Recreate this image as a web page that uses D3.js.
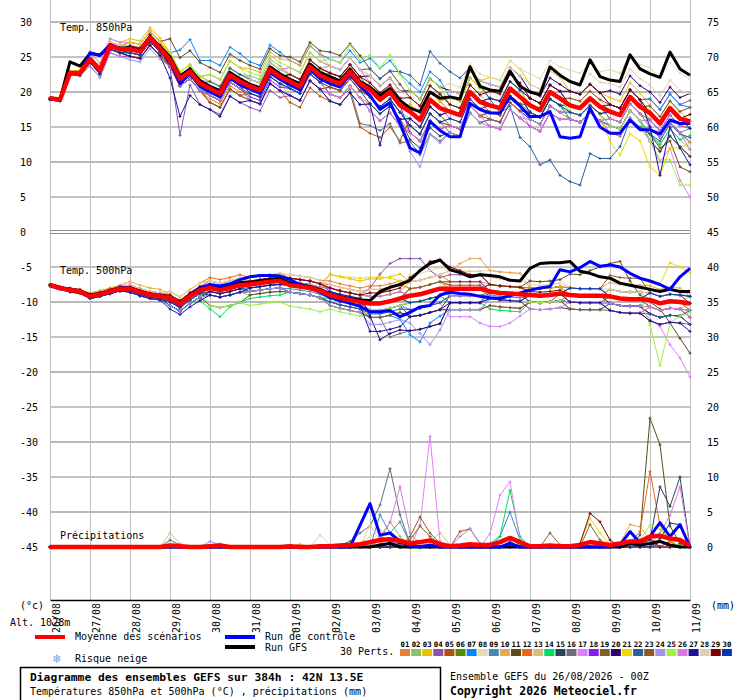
<!DOCTYPE html>
<html><head><meta charset="utf-8">
<script src="https://cdn.jsdelivr.net/npm/d3@7"></script>
<style>
body{margin:0;background:#fff}
svg{display:block}
text{font-family:"DejaVu Sans Mono",monospace;fill:#000}
</style>
</head><body>
<svg id="c" width="740" height="700"></svg>
<script>
// ---------------- DATA ----------------
const dates = ["26/08","27/08","28/08","29/08","30/08","31/08","01/09","02/09","03/09","04/09","05/09","06/09","07/09","08/09","09/09","10/09","11/09"];
const dayTicks = [0,4,8,12,16,20,24,28,32,36,40,44,48,52,56,60,64]; // 6h step index of each day
const leftTicks = [30,25,20,15,10,5,0,-5,-10,-15,-20,-25,-30,-35,-40,-45];
const rightTicks = [75,70,65,60,55,50,45,40,35,30,25,20,15,10,5,0];
const memberColors = ["#e8812e","#88c46c","#f0c000","#8c54b0","#b0500c","#588800","#0088ff","#e8d8b0","#3c8cbc","#e8a850","#5c4c1c","#f0641c","#d4c080","#00dc64","#28445c","#687078","#e080f8","#8020f0","#806030","#300070","#f0d800","#2860a0","#905820","#a090f0","#a0f040","#d878d8","#2010a0","#e0d0b0","#800000","#0038b0"];
const memberLabels = ["01","02","03","04","05","06","07","08","09","10","11","12","13","14","15","16","17","18","19","20","21","22","23","24","25","26","27","28","29","30"];

// 850 hPa temperature (°C), 6-hourly
const mean850 = [19.1,18.9,22.7,22.7, 24.7,23.1,26.6,26.1, 26.1,25.8,27.7,26.2, 24.6,21.9,22.9,21.2, 20.5,19.8,22.4,21.5, 20.8,20.3,23.2,22.2, 21.5,20.8,23.6,22.4, 21.7,21.2,22.9,21.2, 20.3,18.9,20.0,18.1, 17.2,16.0,18.9,17.7, 17.2,16.7,20.0,18.6, 18.1,17.7,20.5,19.3, 18.1,17.4,20.0,19.1, 18.1,17.7,19.1,17.9, 17.2,16.7,19.3,17.9, 17.0,15.5,17.7,16.2, 15.8];
const ctrl850 = [19.0,18.8,22.6,22.6, 25.6,25.2,26.8,26.2, 26.2,25.9,27.9,26.3, 24.3,21.2,22.6,20.8, 20.0,19.3,22.0,21.0, 20.4,19.8,22.8,21.8, 21.0,20.3,23.2,21.9, 21.2,20.7,22.5,20.8, 19.5,17.5,18.5,15.5, 12.0,11.3,15.8,14.5, 13.6,13.6,18.4,17.5, 17.0,17.0,19.3,18.0, 16.5,16.5,17.2,13.6, 13.4,13.6,17.7,15.0, 14.1,14.1,16.0,14.6, 14.6,14.0,16.0,15.5, 15.5];
const gfs850 = [19.2,18.9,24.3,23.7, 25.5,25.3,26.5,26.3, 26.3,26.0,27.8,26.5, 25.0,22.3,23.3,21.6, 20.8,20.2,22.8,21.9, 21.1,20.6,23.6,22.6, 21.8,21.2,24.0,22.8, 22.2,21.6,23.3,21.5, 20.7,19.5,20.5,18.8, 17.7,17.2,20.0,19.1, 19.3,19.0,23.6,20.8, 20.3,20.1,23.0,20.8, 20.0,19.6,23.6,22.4, 21.5,21.0,24.6,22.2, 21.7,21.5,25.3,23.3, 22.6,22.1,25.7,23.3, 22.4];
const members850 = [
[19.0,18.8,22.5,22.4, 24.7,23.1,26.6,26.1, 25.6,25.3,27.2,25.7, 23.6,20.9,21.9,20.2, 19.0,18.3,20.9,20.0, 19.8,19.3,22.2,21.2, 20.5,19.8,22.6,21.4, 19.7,19.2,20.9,19.2, 18.3,16.9,18.0,16.1, 14.2,13.0,15.9,14.7, 15.2,14.7,18.0,16.6, 17.1,16.7,19.5,18.3, 16.1,15.4,18.0,17.1, 16.1,15.7,17.1,15.9, 14.2,13.7,16.3,14.9, 15.0,13.5,15.7,14.2, 12.8],
[19.2,19.0,22.9,23.0, 25.2,23.6,27.1,26.6, 26.1,25.8,27.7,26.2, 25.6,22.9,23.9,22.2, 21.5,20.8,23.4,22.5, 22.3,21.8,24.7,23.7, 22.5,21.8,24.6,23.4, 21.7,21.2,22.9,21.2, 19.3,17.9,19.0,17.1, 16.2,15.0,17.9,16.7, 17.2,16.7,20.0,18.6, 19.1,18.7,21.5,20.3, 18.1,17.4,20.0,19.1, 17.1,16.7,18.1,16.9, 15.2,14.7,17.3,15.9, 14.0,12.5,14.7,13.2, 11.8],
[19.2,19.1,23.0,23.1, 25.7,24.1,27.6,27.1, 27.6,27.3,29.2,27.7, 25.6,22.9,23.9,22.2, 22.5,21.8,24.4,23.5, 21.8,21.3,24.2,23.2, 23.5,22.8,25.6,24.4, 23.7,23.2,24.9,23.2, 22.3,20.9,22.0,20.1, 20.2,19.0,21.9,20.7, 20.2,19.7,23.0,21.6, 22.1,21.7,24.5,23.3, 21.1,20.4,23.0,22.1, 20.1,19.7,21.1,19.9, 19.2,18.7,21.3,19.9, 18.0,16.5,18.7,17.2, 15.8],
[19.0,18.8,22.6,22.5, 23.7,22.1,25.6,25.1, 25.1,24.8,26.7,25.2, 23.6,13.8,21.0,18.2, 17.5,16.8,19.4,18.5, 17.8,17.3,20.2,19.2, 19.5,18.8,21.6,20.4, 20.7,20.2,21.9,20.2, 19.3,17.9,19.0,17.1, 15.2,14.0,16.9,15.7, 14.2,13.7,17.0,15.6, 16.1,15.7,18.5,17.3, 17.1,16.4,19.0,18.1, 18.1,17.7,19.1,17.9, 18.2,17.7,20.3,18.9, 19.0,17.5,19.7,18.2, 18.8],
[19.1,18.9,22.4,22.3, 24.2,22.6,26.1,25.6, 25.1,24.8,26.7,25.2, 23.6,20.9,21.9,20.2, 18.5,17.8,20.4,19.5, 18.8,18.3,21.2,20.2, 18.5,17.8,20.6,19.4, 18.7,18.2,19.9,15.0, 14.1,13.5,15.0,13.0, 16.2,15.0,17.9,16.7, 15.2,14.7,18.0,16.6, 15.1,14.7,17.5,16.3, 15.1,14.4,17.0,16.1, 16.1,15.7,17.1,15.9, 15.2,14.7,17.3,15.9, 13.0,11.5,13.7,12.2, 10.8],
[19.0,18.9,22.8,22.6, 24.7,23.1,26.6,26.1, 26.6,26.3,28.2,26.7, 24.6,21.9,22.9,21.2, 19.5,18.8,21.4,20.5, 19.8,19.3,22.2,21.2, 21.5,20.8,23.6,22.4, 22.7,22.2,23.9,22.2, 20.3,18.9,20.0,18.1, 18.2,17.0,19.9,18.7, 19.2,18.7,22.0,20.6, 19.1,18.7,21.5,20.3, 19.1,18.4,21.0,20.1, 18.1,17.7,19.1,17.9, 16.2,15.7,18.3,16.9, 16.0,14.5,16.7,15.2, 14.8],
[19.2,18.9,22.9,22.8, 24.8,23.3,26.8,26.3, 26.6,26.3,28.2,26.7, 25.6,26.0,27.5,24.5, 24.5,23.8,26.4,25.5, 24.3,23.8,26.7,25.7, 24.5,23.8,26.6,25.4, 24.7,24.2,25.9,24.2, 24.8,23.4,24.5,22.6, 21.2,20.0,22.9,21.7, 19.2,18.7,22.0,20.6, 19.1,18.7,21.5,20.3, 19.1,18.4,21.0,20.1, 20.1,19.7,21.1,19.9, 18.2,17.7,20.3,18.9, 19.0,17.5,19.7,18.2, 17.8],
[19.1,19.0,22.6,22.7, 25.2,23.6,27.1,26.6, 26.1,25.8,27.7,26.2, 23.6,20.9,21.9,20.2, 18.5,17.8,20.4,19.5, 19.8,19.3,22.2,21.2, 21.5,20.8,23.6,22.4, 22.7,22.2,23.9,22.2, 22.3,20.9,22.0,20.1, 20.2,19.0,21.9,20.7, 21.2,20.7,24.0,22.6, 22.1,21.7,24.5,23.3, 22.6,21.9,24.5,23.6, 23.1,22.7,24.1,22.9, 23.2,22.7,25.3,23.9, 23.5,22.0,24.2,22.7, 21.8],
[18.9,18.7,22.5,22.4, 24.2,22.6,26.1,25.6, 25.1,24.8,26.7,25.2, 23.6,20.9,21.9,20.2, 18.5,17.8,20.4,19.5, 18.8,18.3,21.2,20.2, 19.5,18.8,21.6,20.4, 18.7,18.2,19.9,18.2, 18.3,16.9,18.0,16.1, 16.2,15.0,17.9,16.7, 17.2,16.7,20.0,18.6, 17.1,16.7,19.5,18.3, 17.1,16.4,19.0,18.1, 16.1,15.7,17.1,15.9, 16.2,15.7,18.3,16.9, 15.0,13.5,15.7,14.2, 14.8],
[19.2,19.0,22.8,22.9, 25.2,23.6,27.1,26.6, 27.1,26.8,28.7,27.2, 25.6,22.9,23.9,22.2, 22.5,21.8,24.4,23.5, 23.3,22.8,25.7,24.7, 24.5,23.8,26.6,25.4, 23.7,23.2,24.9,23.2, 21.3,19.9,21.0,19.1, 17.2,16.0,18.9,17.7, 16.2,15.7,19.0,17.6, 17.1,16.7,19.5,18.3, 16.1,15.4,18.0,17.1, 17.1,16.7,18.1,16.9, 17.2,16.7,19.3,17.9, 17.0,15.5,17.7,16.2, 16.8],
[19.1,18.9,22.8,22.8, 25.2,23.6,27.1,26.6, 27.1,26.8,28.7,27.2, 27.6,24.9,25.9,24.2, 23.5,22.8,25.4,24.5, 23.8,23.3,26.2,25.2, 25.0,24.3,27.1,25.9, 25.7,25.2,26.9,25.2, 23.3,21.9,23.0,21.1, 19.2,18.0,20.9,19.7, 18.2,17.7,21.0,19.6, 18.1,17.7,20.5,19.3, 17.1,16.4,19.0,18.1, 16.1,15.7,17.1,15.9, 14.2,13.7,16.3,14.9, 14.0,12.0,13.0,9.3, 8.6],
[19.0,18.9,22.6,22.5, 24.2,22.6,26.1,25.6, 25.1,24.8,26.7,25.2, 23.6,20.9,21.9,20.2, 18.5,17.8,20.4,19.5, 18.8,18.3,21.2,20.2, 19.5,18.8,21.6,20.4, 20.7,20.2,21.9,20.2, 20.3,18.9,20.0,18.1, 18.2,17.0,19.9,18.7, 17.2,16.7,20.0,18.6, 17.1,16.7,19.5,18.3, 16.1,15.4,18.0,17.1, 17.1,16.7,18.1,16.9, 17.2,16.7,19.3,17.9, 16.0,14.5,16.7,15.2, 14.8],
[19.1,18.8,22.7,22.6, 24.7,23.1,26.6,26.1, 25.6,25.3,27.2,25.7, 23.6,20.9,21.9,20.2, 19.5,18.8,21.4,20.5, 19.8,19.3,22.2,21.2, 19.5,18.8,21.6,20.4, 19.7,19.2,20.9,19.2, 17.3,15.9,17.0,15.1, 14.2,13.0,15.9,14.7, 15.2,14.7,18.0,16.6, 17.1,16.7,19.5,18.3, 18.1,17.4,20.0,19.1, 19.1,18.7,20.1,18.9, 17.2,16.7,19.3,17.9, 18.0,16.5,18.7,17.2, 17.8],
[19.2,18.9,22.7,22.8, 24.7,23.1,26.6,26.1, 26.6,26.3,28.2,26.7, 24.6,21.9,22.9,21.2, 19.5,18.8,21.4,20.5, 20.8,20.3,23.2,22.2, 22.5,21.8,24.6,23.4, 21.7,21.2,22.9,21.2, 19.3,17.9,19.0,17.1, 15.2,14.0,16.9,15.7, 15.2,14.7,18.0,16.6, 17.1,16.7,19.5,18.3, 17.1,16.4,19.0,18.1, 16.1,15.7,17.1,15.9, 15.2,14.7,17.3,15.9, 14.0,12.5,14.7,13.2, 13.8],
[19.0,18.8,22.6,22.7, 24.2,22.6,26.1,25.6, 26.1,25.8,27.7,26.2, 23.6,20.9,21.9,20.2, 20.5,19.8,22.4,21.5, 20.8,20.3,23.2,22.2, 20.5,19.8,22.6,21.4, 20.7,20.2,21.9,20.2, 18.3,16.9,18.0,16.1, 13.2,12.0,14.9,13.7, 14.2,13.7,17.0,15.6, 16.1,15.7,18.5,17.3, 16.1,15.4,18.0,17.1, 17.1,16.7,18.1,16.9, 15.2,14.7,17.3,15.9, 13.0,11.5,13.7,12.2, 10.8],
[19.1,18.9,22.5,22.6, 24.7,23.1,26.6,26.1, 25.6,25.3,27.2,25.7, 24.1,21.4,22.4,20.7, 19.5,18.8,21.4,20.5, 19.8,19.3,22.2,21.2, 20.5,19.8,22.6,21.4, 19.7,19.2,20.4,15.5, 15.2,14.5,15.5,12.7, 13.0,11.0,14.0,13.0, 14.2,13.7,17.0,15.6, 16.1,15.7,18.5,17.3, 17.1,16.4,19.0,18.1, 18.1,17.7,19.1,17.9, 16.2,15.7,18.3,16.9, 15.0,13.5,15.7,14.2, 12.8],
[19.2,19.0,22.9,22.9, 25.7,24.1,27.6,27.1, 27.1,26.8,28.7,27.2, 25.1,22.4,23.4,21.7, 21.5,20.8,23.4,22.5, 21.8,21.3,24.2,23.2, 23.5,22.8,25.6,24.4, 23.7,23.2,24.9,23.2, 21.3,19.9,21.0,19.1, 17.2,16.0,18.9,17.7, 16.2,15.7,19.0,17.6, 16.1,15.7,18.5,17.3, 15.1,14.4,17.0,16.1, 16.1,15.7,17.1,15.9, 14.2,13.7,16.3,14.9, 13.0,10.0,12.0,7.4, 5.0],
[19.0,18.9,22.6,22.6, 24.7,23.1,26.6,26.1, 25.6,25.3,27.2,25.7, 23.6,20.9,21.9,20.2, 19.5,18.8,21.4,20.5, 19.3,18.8,21.7,20.7, 20.5,19.8,22.6,21.4, 21.7,21.2,22.9,21.2, 20.3,18.9,20.0,18.1, 14.2,13.0,15.9,14.7, 15.2,14.7,18.0,16.6, 15.1,14.7,17.5,16.3, 15.1,14.4,17.0,16.1, 16.1,15.7,17.1,15.9, 15.2,14.7,17.3,15.9, 16.0,14.5,16.7,15.2, 15.8],
[19.1,18.8,22.4,22.5, 24.2,22.6,26.1,25.6, 25.1,24.8,26.7,25.2, 23.6,20.9,21.9,20.2, 18.5,17.8,20.4,19.5, 19.8,19.3,22.2,21.2, 20.5,19.8,22.6,21.4, 19.7,19.2,20.9,19.2, 17.3,15.9,17.0,15.1, 14.2,13.0,15.9,14.7, 15.2,14.7,18.0,16.6, 16.1,15.7,18.5,17.3, 17.1,16.4,19.0,18.1, 18.1,17.7,19.1,17.9, 17.2,16.7,19.3,17.9, 18.0,16.5,18.7,17.2, 17.8],
[19.1,18.9,22.7,22.7, 24.7,23.1,26.6,26.1, 26.1,25.8,27.7,26.2, 23.6,20.9,21.9,20.2, 19.5,18.8,21.4,20.5, 20.8,20.3,23.2,22.2, 22.5,21.8,24.6,23.4, 22.7,22.2,23.9,22.2, 22.3,20.9,22.0,20.1, 20.2,19.0,21.9,20.7, 20.2,19.7,23.0,21.6, 21.1,20.7,23.5,22.3, 20.1,19.4,22.0,21.1, 20.1,19.7,21.1,19.9, 20.2,19.7,22.3,20.9, 20.0,18.5,20.7,19.2, 19.8],
[19.3,19.1,23.0,23.0, 25.2,23.6,27.1,26.6, 27.1,26.8,28.7,27.2, 25.6,22.9,23.9,22.2, 21.5,20.8,23.4,22.5, 21.8,21.3,24.2,23.2, 22.5,21.8,24.6,23.4, 21.7,21.2,22.9,21.2, 20.3,18.9,20.0,18.1, 18.2,17.0,19.9,18.7, 19.2,18.7,22.0,20.6, 19.1,18.7,21.5,20.3, 18.1,17.4,20.0,19.1, 17.1,16.7,18.1,16.9, 12.9,11.0,14.0,13.0, 9.3,8.1,12.0,12.0, 12.7],
[19.1,18.9,22.7,22.6, 24.7,23.1,26.6,26.1, 26.1,25.8,27.7,26.2, 24.6,21.9,22.9,21.2, 21.5,20.8,23.4,22.5, 21.8,21.3,24.2,23.2, 22.5,21.8,24.6,23.4, 23.7,23.2,24.9,23.2, 23.3,21.9,23.0,22.9, 22.4,21.0,25.8,24.1, 22.9,22.0,23.5,21.0, 19.0,17.0,18.0,13.5, 12.2,9.6,10.3,8.1, 7.2,6.7,11.2,10.5, 10.5,12.2,16.0,15.0, 14.0,13.0,15.5,14.0, 13.5],
[19.0,18.9,22.5,22.6, 24.2,22.6,26.1,25.6, 25.6,25.3,27.2,25.7, 23.6,20.9,21.9,20.2, 19.5,18.8,21.4,20.5, 18.8,18.3,21.2,20.2, 19.5,18.8,21.6,20.4, 20.7,20.2,21.9,20.2, 19.3,17.9,19.0,17.1, 15.2,14.0,16.9,15.7, 15.2,14.7,18.0,16.6, 17.1,16.7,19.5,18.3, 18.1,17.4,20.0,19.1, 19.1,18.7,20.1,18.9, 18.2,17.7,20.3,18.9, 17.0,15.5,17.7,16.2, 14.8],
[19.0,18.8,22.4,22.3, 23.7,22.1,25.6,25.1, 24.6,24.3,26.2,24.7, 23.6,20.9,21.9,20.2, 19.5,18.8,21.4,20.5, 18.8,18.3,21.2,20.2, 19.5,18.8,21.6,20.4, 19.7,19.2,20.9,19.2, 17.3,15.9,17.0,15.1, 11.5,9.3,13.9,12.7, 14.2,13.7,17.0,15.6, 15.1,14.7,17.5,16.3, 16.1,15.4,18.0,17.1, 17.1,16.7,18.1,16.9, 15.2,14.7,17.3,15.9, 16.0,14.5,16.7,15.2, 15.8],
[19.2,19.0,22.8,22.9, 25.2,23.6,27.1,26.6, 26.6,26.3,28.2,26.7, 25.6,22.9,23.9,22.2, 22.5,21.8,24.4,23.5, 22.8,22.3,25.2,24.2, 23.5,22.8,25.6,24.4, 24.7,24.2,26.7,24.5, 25.3,23.4,25.3,22.5, 20.2,19.0,21.9,20.7, 18.2,17.7,21.0,19.6, 18.1,17.7,20.5,19.3, 18.1,17.4,20.0,19.1, 17.1,16.7,18.1,16.9, 15.2,14.7,17.3,15.9, 13.0,10.3,10.3,6.7, 6.7],
[19.1,19.0,22.8,22.7, 25.2,23.6,27.1,26.6, 26.6,26.3,28.2,26.7, 24.6,21.9,22.9,21.2, 20.5,19.8,22.4,21.5, 19.8,19.3,22.2,21.2, 20.5,19.8,22.6,21.4, 19.7,19.2,20.9,19.2, 17.3,15.9,17.0,15.1, 14.2,13.0,15.9,14.7, 15.2,14.7,18.0,16.6, 15.1,14.7,17.5,16.3, 15.1,14.4,17.0,16.1, 16.1,15.7,17.1,15.9, 16.2,15.7,18.3,16.9, 15.0,13.5,15.7,14.2, 11.8],
[19.0,18.8,22.5,22.4, 24.2,22.6,26.1,25.6, 25.1,24.8,26.7,25.2, 22.0,16.5,19.5,18.2, 17.5,16.5,19.4,18.5, 18.8,18.3,21.2,20.2, 19.5,18.8,21.6,20.4, 18.7,18.2,19.9,18.2, 18.3,12.4,18.0,16.1, 16.2,15.0,17.9,16.7, 17.2,16.7,20.0,18.6, 19.1,18.7,21.5,20.3, 19.1,18.4,21.0,20.1, 18.1,17.7,19.1,17.9, 18.2,17.7,20.3,18.9, 15.0,8.1,15.0,12.0, 9.6],
[19.2,18.9,22.8,22.8, 25.2,23.6,27.1,26.6, 26.6,26.3,28.2,26.7, 25.1,22.4,23.4,21.7, 20.5,19.8,22.4,21.5, 21.8,21.3,24.2,23.2, 22.5,21.8,24.6,23.4, 23.7,23.2,24.9,23.2, 22.3,20.9,22.0,20.1, 19.2,18.0,20.9,19.7, 20.2,19.7,23.0,21.6, 21.1,20.7,23.5,22.3, 21.1,20.4,23.0,22.1, 21.6,21.2,22.6,21.4, 21.2,20.7,23.3,21.9, 21.0,19.5,21.7,20.2, 19.8],
[19.1,18.9,22.8,22.7, 24.7,23.1,26.6,26.1, 26.6,26.3,28.2,26.7, 25.1,22.4,23.4,21.7, 20.5,19.8,22.4,21.5, 20.8,20.3,23.2,22.2, 22.5,21.8,24.6,23.4, 22.7,22.2,23.9,22.2, 21.3,19.9,21.0,19.1, 19.2,18.0,20.9,19.7, 18.2,17.7,21.0,19.6, 20.1,19.7,22.5,21.3, 19.1,18.4,21.0,20.1, 20.1,19.7,21.1,19.9, 18.2,17.7,20.3,18.9, 17.0,15.5,17.7,16.2, 16.8],
[18.9,18.7,22.6,22.5, 24.2,22.6,26.1,25.6, 25.6,25.3,27.2,25.7, 24.6,21.9,22.9,21.2, 20.5,19.8,22.4,21.5, 19.8,19.3,22.2,21.2, 20.5,19.8,22.6,21.4, 21.7,21.2,22.9,21.2, 19.3,17.9,19.0,17.1, 15.2,14.0,16.9,15.7, 16.2,15.7,19.0,17.6, 18.1,17.7,20.5,19.3, 17.1,16.4,19.0,18.1, 17.1,16.7,18.1,16.9, 17.2,16.7,19.3,17.9, 17.0,15.5,17.7,16.2, 14.8]
];

// 500 hPa temperature (°C), 6-hourly
const mean500 = [-7.6,-8.0,-8.3,-8.5, -9.2,-8.9,-8.5,-8.1, -8.1,-8.6,-9.0,-9.2, -9.5,-10.3,-9.2,-8.3, -8.0,-8.3,-8.0,-7.6, -7.5,-7.3,-7.1,-7.0, -7.6,-7.8,-8.0,-8.4, -9.0,-9.4,-9.7,-10.0, -10.2,-10.2,-9.9,-9.5, -9.1,-8.9,-8.5,-8.1, -8.1,-8.1,-8.1,-8.1, -8.5,-8.7,-8.8,-8.9, -9.0,-9.1,-9.0,-8.8, -9.0,-9.1,-9.1,-9.1, -9.2,-9.5,-9.6,-9.6, -9.7,-10.2,-9.9,-10.0, -10.2];
const ctrl500 = [-7.7,-8.1,-8.4,-8.6, -9.3,-9.0,-8.4,-7.9, -8.0,-8.5,-9.1,-9.2, -9.6,-10.5,-9.0,-8.0, -7.5,-7.7,-7.4,-6.8, -6.4,-6.2,-6.2,-6.3, -6.8,-7.5,-8.0,-8.6, -9.3,-9.8,-10.2,-10.6, -11.4,-11.4,-11.2,-12.1, -11.5,-10.7,-10.5,-9.0, -8.6,-8.8,-8.9,-9.2, -9.4,-9.5,-9.1,-8.7, -8.3,-8.0,-7.8,-5.4, -5.7,-5.1,-4.2,-4.9, -4.7,-5.0,-5.9,-6.6, -7.0,-7.5,-8.2,-6.4, -5.2];
const gfs500 = [-7.5,-7.9,-8.2,-8.4, -9.0,-8.8,-8.4,-8.0, -8.0,-8.5,-8.9,-9.1, -9.4,-10.2,-9.0,-8.0, -7.7,-8.0,-7.7,-7.3, -7.2,-7.0,-6.8,-6.7, -7.3,-7.5,-7.8,-8.2, -8.8,-9.2,-9.5,-9.7, -9.8,-8.5,-7.9,-7.5, -6.9,-5.5,-4.5,-4.0, -5.4,-5.8,-6.4,-6.1, -6.2,-6.4,-6.9,-7.0, -5.2,-4.5,-4.4,-4.4, -4.2,-5.6,-5.9,-6.4, -6.6,-7.3,-7.6,-7.9, -8.2,-8.5,-8.2,-8.5, -8.5];
const members500 = [
[-7.6,-8.0,-8.3,-8.5, -8.9,-8.6,-8.2,-7.8, -7.6,-8.1,-8.5,-8.7, -9.0,-9.8,-8.7,-7.8, -7.0,-7.3,-7.0,-6.6, -6.5,-6.3,-6.1,-6.0, -6.1,-6.3,-6.5,-6.9, -7.0,-7.4,-7.7,-8.0, -7.7,-7.7,-7.4,-7.0, -7.1,-6.9,-6.5,-6.1, -7.1,-7.1,-7.1,-7.1, -8.5,-8.7,-8.8,-8.9, -10.0,-10.1,-10.0,-9.8, -10.0,-10.1,-10.1,-10.1, -9.2,-9.5,-9.6,-9.6, -8.7,-9.2,-8.9,-9.0, -9.2],
[-7.7,-8.1,-8.4,-8.6, -9.5,-9.2,-8.8,-8.4, -8.6,-9.1,-9.5,-9.7, -10.5,-11.3,-10.2,-9.3, -9.0,-9.3,-9.0,-8.6, -9.0,-8.8,-8.6,-8.5, -8.6,-8.8,-9.0,-9.4, -9.5,-9.9,-10.2,-10.5, -10.2,-10.2,-9.9,-9.5, -10.1,-9.9,-9.5,-9.1, -10.1,-10.1,-10.1,-10.1, -9.5,-9.7,-9.8,-9.9, -9.0,-9.1,-9.0,-8.8, -9.0,-9.1,-9.1,-9.1, -8.2,-8.5,-8.6,-8.6, -9.7,-10.2,-9.9,-10.0, -11.2],
[-7.4,-7.8,-8.1,-8.3, -8.7,-8.4,-8.0,-7.6, -7.6,-8.1,-8.5,-8.7, -9.5,-10.3,-9.2,-8.3, -7.5,-7.8,-7.5,-7.1, -6.5,-6.3,-6.1,-6.0, -6.6,-6.8,-7.0,-7.4, -6.0,-6.4,-6.7,-7.0, -6.7,-6.7,-6.4,-6.0, -7.1,-6.9,-6.5,-6.1, -7.1,-7.1,-7.1,-7.1, -7.5,-7.7,-7.8,-7.9, -9.0,-9.1,-9.0,-8.8, -10.0,-10.1,-10.1,-10.1, -11.2,-11.5,-11.6,-11.6, -10.7,-11.2,-10.9,-11.0, -10.2],
[-7.6,-7.9,-8.2,-8.4, -9.2,-8.9,-8.5,-8.1, -7.6,-8.1,-8.5,-8.7, -9.5,-10.3,-9.2,-8.3, -7.5,-7.8,-7.5,-7.1, -7.0,-6.8,-6.6,-6.5, -6.6,-6.8,-7.0,-7.4, -8.0,-8.4,-8.7,-9.0, -8.0,-6.0,-4.5,-3.8, -3.8,-3.8,-5.5,-6.5, -6.1,-6.1,-6.1,-6.1, -7.5,-7.7,-7.8,-7.9, -9.0,-9.1,-9.0,-8.8, -8.0,-8.1,-8.1,-8.1, -9.2,-9.5,-9.6,-9.6, -10.7,-11.2,-10.9,-11.0, -12.2],
[-7.6,-8.0,-8.3,-8.5, -9.5,-9.2,-8.8,-8.4, -8.6,-9.1,-9.5,-9.7, -10.0,-10.8,-9.7,-8.8, -9.0,-9.3,-9.0,-8.6, -8.5,-8.3,-8.1,-8.0, -8.6,-8.8,-9.0,-9.4, -10.5,-10.9,-11.2,-11.5, -12.2,-12.2,-11.9,-11.5, -12.1,-11.9,-11.5,-11.1, -11.1,-11.1,-11.1,-11.1, -10.5,-10.7,-10.8,-10.9, -10.0,-10.1,-10.0,-9.8, -10.0,-10.1,-10.1,-10.1, -9.2,-9.5,-9.6,-9.6, -10.7,-11.2,-10.9,-11.0, -12.2],
[-7.5,-7.9,-8.2,-8.4, -8.9,-8.6,-8.2,-7.8, -8.1,-8.6,-9.0,-9.2, -9.5,-10.3,-9.2,-8.3, -7.5,-7.8,-7.5,-7.1, -7.5,-7.3,-7.1,-7.0, -7.1,-7.3,-7.5,-7.9, -8.0,-8.4,-8.7,-9.0, -9.2,-9.2,-8.9,-8.5, -9.1,-8.9,-8.5,-8.1, -8.1,-8.1,-8.1,-8.1, -7.5,-7.7,-7.8,-7.9, -8.0,-8.1,-8.0,-7.8, -9.0,-9.1,-9.1,-9.1, -9.2,-9.5,-9.6,-9.6, -10.7,-11.2,-10.9,-11.0, -11.2],
[-7.6,-8.0,-8.3,-8.5, -9.2,-8.9,-8.5,-8.1, -8.6,-9.1,-9.5,-9.7, -10.5,-11.3,-10.2,-9.3, -8.5,-8.8,-8.5,-8.1, -8.0,-7.8,-7.6,-7.5, -7.6,-7.8,-8.0,-8.4, -9.0,-9.4,-9.7,-10.0, -12.2,-12.2,-11.9,-12.5, -14.7,-15.7,-13.0,-12.0, -11.1,-11.1,-11.1,-11.1, -9.5,-9.7,-9.8,-9.9, -9.0,-9.1,-9.0,-8.8, -9.0,-9.1,-9.1,-9.1, -8.2,-8.5,-8.6,-8.6, -8.7,-9.2,-8.9,-9.0, -10.2],
[-7.4,-7.8,-8.1,-8.3, -8.9,-8.6,-8.2,-7.8, -7.6,-8.1,-8.5,-8.7, -9.0,-9.8,-8.7,-7.8, -7.0,-7.3,-7.0,-6.6, -6.5,-6.3,-6.1,-6.0, -6.1,-6.3,-6.5,-6.9, -8.0,-8.4,-8.7,-9.0, -8.2,-8.2,-7.9,-7.5, -6.1,-5.9,-5.5,-5.1, -5.6,-5.6,-5.6,-5.6, -5.5,-5.7,-5.8,-5.9, -7.0,-7.1,-7.0,-6.8, -8.0,-8.1,-8.1,-8.1, -9.2,-9.5,-9.6,-9.6, -8.7,-9.2,-8.9,-9.0, -8.2],
[-7.7,-8.1,-8.3,-8.5, -9.5,-9.2,-8.8,-8.4, -8.6,-9.1,-9.5,-9.7, -10.5,-11.3,-10.2,-9.3, -9.0,-9.3,-9.0,-8.6, -8.5,-8.3,-8.1,-8.0, -8.1,-8.3,-8.5,-8.9, -9.5,-9.9,-10.2,-10.5, -11.2,-11.2,-10.9,-10.5, -11.1,-10.9,-10.5,-10.1, -9.1,-9.1,-9.1,-9.1, -9.0,-9.2,-9.3,-9.4, -9.0,-9.1,-9.0,-8.8, -10.0,-10.1,-10.1,-10.1, -10.2,-10.5,-10.6,-10.6, -9.7,-10.2,-9.9,-10.0, -11.2],
[-7.6,-8.0,-8.3,-8.5, -8.7,-8.4,-8.0,-7.6, -7.1,-7.6,-8.0,-8.2, -9.0,-9.8,-8.7,-7.8, -7.5,-7.8,-7.5,-7.1, -6.5,-6.3,-6.1,-6.0, -6.6,-6.8,-7.0,-7.4, -8.0,-8.4,-8.7,-9.0, -9.2,-9.2,-8.9,-8.5, -7.1,-6.9,-6.5,-6.1, -5.5,-4.5,-3.8,-3.8, -5.5,-5.7,-5.8,-5.9, -8.0,-8.1,-8.0,-7.8, -8.0,-8.1,-8.1,-8.1, -7.2,-7.5,-7.6,-7.6, -7.7,-8.2,-7.9,-8.0, -9.2],
[-7.6,-8.1,-8.4,-8.5, -9.5,-9.2,-8.8,-8.4, -8.6,-9.1,-9.5,-9.7, -10.5,-11.3,-10.2,-9.3, -10.5,-10.8,-10.5,-10.1, -9.0,-8.8,-8.6,-8.5, -8.6,-8.8,-9.0,-9.4, -10.0,-10.4,-10.7,-11.0, -11.2,-11.2,-10.9,-10.5, -10.1,-9.9,-9.5,-9.1, -8.1,-8.1,-8.1,-8.1, -7.5,-7.7,-7.8,-7.9, -7.0,-7.1,-7.0,-6.8, -6.0,-6.1,-5.5,-5.0, -4.5,-4.2,-7.0,-9.0, -10.0,-11.0,-13.0,-15.2, -17.3],
[-7.6,-7.9,-8.2,-8.4, -8.9,-8.6,-8.2,-7.8, -7.6,-8.1,-8.5,-8.7, -8.5,-9.3,-8.2,-7.3, -6.5,-6.8,-6.5,-6.1, -6.5,-6.3,-6.1,-6.0, -6.6,-6.8,-7.0,-7.4, -7.5,-7.9,-8.2,-8.5, -8.2,-8.2,-7.9,-7.5, -8.1,-7.9,-7.5,-7.1, -8.1,-8.1,-8.1,-8.1, -8.5,-8.7,-8.8,-8.9, -8.0,-8.1,-8.0,-7.8, -8.0,-8.1,-8.1,-8.1, -9.2,-9.5,-9.6,-9.6, -10.7,-11.2,-10.9,-11.0, -11.2],
[-7.6,-8.0,-8.3,-8.5, -9.2,-8.9,-8.5,-8.1, -8.1,-8.6,-9.0,-9.2, -9.5,-10.3,-9.2,-8.3, -7.5,-7.8,-7.5,-7.1, -7.0,-6.8,-6.6,-6.5, -7.6,-7.8,-8.0,-8.4, -9.5,-9.9,-10.2,-10.5, -11.2,-11.2,-10.9,-10.5, -9.1,-8.9,-8.5,-8.1, -7.1,-7.1,-7.1,-7.1, -7.5,-7.7,-7.8,-7.9, -9.0,-9.1,-9.0,-8.8, -10.0,-10.1,-10.1,-10.1, -10.2,-10.5,-10.6,-10.6, -9.7,-10.2,-9.9,-10.0, -9.2],
[-7.6,-8.1,-8.4,-8.6, -9.5,-9.2,-8.8,-8.4, -8.6,-9.1,-9.5,-9.7, -10.5,-11.3,-10.2,-9.8, -11.0,-12.1,-10.7,-10.0, -9.5,-9.3,-9.1,-9.0, -8.6,-8.8,-9.0,-9.4, -9.5,-9.9,-10.2,-10.5, -11.2,-11.2,-10.9,-10.5, -10.1,-9.9,-9.5,-9.1, -10.1,-10.1,-10.1,-10.1, -11.0,-11.2,-11.3,-11.4, -10.0,-10.1,-10.0,-9.8, -10.0,-10.1,-10.1,-10.1, -9.2,-9.5,-9.6,-9.6, -9.7,-10.2,-9.9,-10.0, -11.2],
[-7.6,-8.0,-8.3,-8.5, -9.2,-8.9,-8.5,-8.1, -8.6,-9.1,-9.5,-9.7, -10.0,-10.8,-9.7,-8.8, -8.0,-8.3,-8.0,-7.6, -8.0,-7.8,-7.6,-7.5, -7.6,-7.8,-8.0,-8.4, -9.0,-9.4,-9.7,-10.0, -11.2,-11.2,-10.9,-10.5, -12.1,-11.9,-11.5,-11.1, -9.1,-9.1,-9.1,-9.1, -9.5,-9.7,-9.8,-9.9, -11.0,-11.1,-11.0,-10.8, -11.0,-11.1,-11.1,-11.1, -10.2,-10.5,-10.6,-10.6, -11.7,-12.2,-11.9,-12.0, -11.2],
[-7.7,-8.0,-8.3,-8.5, -9.2,-8.9,-8.5,-8.1, -8.1,-8.6,-9.0,-9.2, -10.0,-10.8,-9.7,-8.8, -8.5,-8.8,-8.5,-8.1, -8.5,-8.3,-8.1,-8.0, -8.6,-8.8,-9.0,-9.4, -10.0,-10.4,-10.7,-11.0, -12.2,-12.2,-15.0,-14.5, -14.1,-13.9,-13.5,-13.1, -10.1,-10.1,-10.1,-10.1, -9.5,-9.7,-9.8,-9.9, -10.0,-10.1,-10.0,-9.8, -11.0,-11.1,-11.1,-11.1, -10.2,-10.5,-10.6,-10.6, -10.7,-11.2,-10.9,-11.0, -12.2],
[-7.5,-7.9,-8.2,-8.4, -8.9,-8.6,-8.2,-7.8, -8.1,-8.6,-9.0,-9.2, -9.0,-9.8,-8.7,-7.8, -7.5,-7.8,-7.5,-7.1, -7.0,-6.8,-6.6,-6.5, -7.6,-7.8,-8.0,-8.4, -9.5,-9.9,-10.2,-10.5, -11.2,-11.2,-10.9,-10.5, -11.1,-10.9,-10.5,-10.1, -12.1,-12.1,-12.1,-13.0, -13.5,-13.5,-13.0,-12.0, -11.0,-11.1,-11.0,-10.8, -10.0,-10.1,-10.1,-10.1, -10.2,-10.5,-10.6,-10.6, -12.5,-13.5,-16.1,-18.0, -20.7],
[-7.6,-8.0,-8.3,-8.5, -9.2,-8.9,-8.5,-8.1, -8.6,-9.1,-9.5,-9.7, -10.0,-10.8,-9.7,-8.8, -8.0,-8.3,-8.0,-7.6, -7.0,-6.8,-6.6,-6.5, -6.6,-6.8,-7.0,-7.4, -8.5,-8.9,-9.2,-9.5, -10.2,-10.2,-9.9,-9.5, -8.1,-7.9,-7.5,-7.1, -7.1,-7.1,-7.1,-7.1, -8.5,-8.7,-8.8,-8.9, -10.0,-10.1,-10.0,-9.8, -9.0,-9.1,-9.1,-9.1, -8.2,-8.5,-8.6,-8.6, -8.7,-9.2,-8.9,-9.0, -9.2],
[-7.6,-8.0,-8.3,-8.5, -9.2,-8.9,-8.5,-8.1, -8.1,-8.6,-9.0,-9.2, -10.0,-10.8,-9.7,-8.8, -8.5,-8.8,-8.5,-8.1, -8.5,-8.3,-8.1,-8.0, -8.6,-8.8,-9.0,-9.4, -10.5,-10.9,-11.2,-11.5, -12.2,-12.2,-11.9,-11.5, -12.1,-11.9,-11.5,-11.1, -11.1,-11.1,-11.1,-11.1, -10.5,-10.7,-10.8,-10.9, -10.0,-10.1,-10.0,-9.8, -11.0,-11.1,-11.1,-11.1, -11.2,-11.5,-11.6,-11.6, -12.7,-13.2,-12.9,-13.0, -13.2],
[-7.6,-8.0,-8.6,-8.8, -9.5,-9.2,-8.8,-8.4, -8.4,-8.9,-9.3,-9.5, -10.5,-11.3,-10.2,-9.3, -8.5,-8.8,-8.5,-8.1, -7.5,-7.3,-7.1,-7.0, -7.1,-7.3,-7.5,-7.9, -8.0,-8.4,-8.7,-9.0, -12.0,-15.4,-14.5,-14.0, -14.1,-13.9,-13.5,-13.1, -10.1,-10.1,-10.1,-10.1, -8.5,-8.7,-8.8,-8.9, -8.0,-8.1,-8.0,-7.8, -9.0,-9.1,-9.1,-9.1, -10.2,-10.5,-10.6,-10.6, -11.7,-12.2,-11.9,-12.0, -13.2],
[-7.4,-7.8,-8.1,-8.3, -8.9,-8.6,-8.2,-7.8, -7.6,-8.1,-8.5,-8.7, -8.5,-9.3,-8.2,-7.3, -7.0,-7.3,-7.0,-6.6, -7.0,-6.8,-6.6,-6.5, -7.1,-7.3,-7.5,-7.9, -6.2,-6.3,-6.5,-6.6, -6.5,-6.4,-6.6,-7.0, -8.1,-7.9,-7.5,-7.1, -8.1,-8.1,-8.1,-8.1, -8.5,-8.7,-8.8,-8.9, -8.0,-8.1,-8.0,-7.8, -9.0,-9.1,-9.1,-9.1, -8.2,-8.5,-8.6,-8.6, -7.0,-7.5,-4.4,-5.0, -5.8],
[-7.6,-8.0,-8.3,-8.5, -9.5,-9.2,-8.8,-8.4, -8.6,-9.1,-9.5,-9.7, -10.0,-10.8,-9.7,-8.8, -9.0,-9.3,-9.0,-8.6, -8.5,-8.3,-8.1,-8.0, -8.6,-8.8,-9.0,-9.4, -10.0,-10.4,-10.7,-11.0, -11.7,-11.7,-11.4,-11.0, -11.1,-10.9,-10.5,-10.1, -9.1,-9.1,-9.1,-9.1, -8.5,-8.7,-8.8,-8.9, -10.0,-10.1,-10.0,-9.8, -10.0,-10.1,-10.1,-10.1, -11.2,-11.5,-11.6,-11.6, -11.7,-12.2,-11.9,-12.0, -13.2],
[-7.6,-8.0,-8.3,-8.5, -9.2,-8.9,-8.5,-8.1, -7.8,-8.3,-8.7,-8.9, -9.0,-9.8,-8.7,-7.8, -8.0,-8.3,-8.0,-7.6, -7.5,-7.3,-7.1,-7.0, -7.1,-7.3,-7.5,-7.9, -9.0,-9.4,-9.7,-10.0, -10.2,-10.2,-9.9,-9.5, -8.1,-7.9,-7.5,-7.1, -7.6,-7.6,-7.6,-7.6, -8.5,-8.7,-8.8,-8.9, -10.0,-10.1,-10.0,-8.8, -8.0,-8.1,-8.1,-8.1, -6.2,-6.5,-6.6,-6.6, -8.7,-9.2,-8.9,-9.0, -10.2],
[-7.6,-8.1,-8.4,-8.6, -9.5,-9.2,-8.8,-8.4, -8.6,-9.1,-9.5,-9.7, -10.5,-11.3,-10.2,-9.3, -9.0,-9.3,-9.0,-8.6, -8.5,-8.3,-8.1,-8.0, -8.6,-8.8,-9.0,-9.4, -10.5,-10.9,-11.2,-11.5, -13.2,-13.2,-12.9,-12.5, -13.0,-14.5,-16.1,-14.0, -11.1,-11.1,-11.1,-11.1, -9.5,-9.7,-9.8,-9.9, -10.0,-10.1,-10.0,-9.8, -10.0,-10.1,-10.1,-10.1, -10.2,-10.5,-10.6,-10.6, -10.7,-11.2,-10.9,-11.0, -11.2],
[-7.6,-8.0,-8.3,-8.5, -9.2,-8.9,-8.5,-8.1, -8.1,-8.6,-9.0,-9.2, -10.0,-10.8,-9.7,-8.8, -10.5,-10.8,-10.5,-10.1, -10.5,-10.3,-10.1,-10.0, -10.6,-10.8,-11.0,-11.4, -11.0,-11.4,-11.7,-12.0, -11.2,-11.2,-10.9,-10.5, -10.1,-9.9,-9.5,-9.1, -8.1,-8.1,-8.1,-8.1, -9.5,-9.7,-9.8,-9.9, -10.0,-10.1,-10.0,-9.8, -9.0,-9.1,-9.1,-9.1, -9.2,-9.5,-9.6,-9.6, -13.3,-19.1,-13.0,-12.0, -11.5],
[-7.6,-7.9,-8.2,-8.4, -8.9,-8.6,-8.2,-7.8, -7.6,-8.1,-8.5,-8.7, -9.0,-9.8,-8.7,-7.8, -7.0,-7.3,-7.0,-6.6, -7.0,-6.8,-6.6,-6.5, -7.1,-7.3,-7.5,-7.9, -8.0,-8.4,-8.7,-9.0, -9.2,-9.2,-8.9,-8.5, -9.1,-8.9,-8.5,-8.1, -9.1,-9.1,-9.1,-9.1, -9.5,-9.7,-9.8,-9.9, -9.0,-9.1,-9.0,-8.8, -10.0,-10.1,-10.1,-10.1, -11.2,-11.5,-11.6,-11.6, -10.7,-11.2,-10.9,-11.0, -12.2],
[-7.6,-8.0,-8.3,-8.5, -9.5,-9.2,-8.8,-8.4, -8.6,-9.1,-9.5,-9.7, -11.0,-11.8,-10.7,-9.8, -9.0,-9.3,-9.0,-8.6, -8.0,-7.8,-7.6,-7.5, -7.6,-7.8,-8.0,-8.4, -9.5,-9.9,-10.2,-10.5, -14.2,-14.2,-13.9,-13.5, -12.1,-11.9,-11.5,-11.1, -10.1,-10.1,-10.1,-10.1, -9.5,-9.7,-9.8,-9.9, -9.0,-9.1,-9.0,-8.8, -10.0,-10.1,-10.1,-10.1, -11.2,-11.5,-11.6,-11.6, -12.7,-13.2,-12.9,-13.0, -14.2],
[-7.6,-7.9,-8.2,-8.4, -8.9,-8.6,-8.2,-7.8, -7.6,-8.1,-8.5,-8.7, -8.5,-9.3,-8.2,-7.3, -7.0,-7.3,-7.0,-6.6, -6.5,-6.3,-6.1,-6.0, -6.1,-6.3,-6.5,-6.9, -7.5,-7.9,-8.2,-8.5, -8.2,-8.2,-7.9,-7.5, -7.1,-6.9,-6.5,-6.1, -5.6,-5.6,-5.6,-5.6, -6.5,-6.7,-6.8,-6.9, -7.5,-7.6,-7.5,-7.3, -8.0,-8.1,-8.1,-8.1, -8.2,-8.5,-8.6,-8.6, -8.7,-9.2,-8.9,-9.0, -8.7],
[-7.6,-8.0,-8.0,-8.2, -8.9,-8.6,-8.2,-7.8, -7.8,-8.3,-8.7,-8.9, -9.0,-9.8,-8.7,-7.8, -7.5,-7.8,-7.5,-7.1, -7.0,-6.8,-6.6,-6.5, -6.6,-6.8,-7.0,-7.4, -8.0,-8.4,-8.7,-9.0, -8.7,-8.7,-8.4,-8.0, -6.5,-5.5,-4.2,-4.0, -5.0,-5.5,-6.1,-6.1, -7.5,-7.7,-7.8,-7.9, -8.5,-8.6,-8.5,-8.3, -9.0,-9.1,-9.1,-9.1, -9.2,-9.5,-9.6,-9.6, -9.7,-10.2,-9.9,-10.0, -10.2],
[-7.6,-8.0,-8.3,-8.5, -9.5,-9.2,-8.8,-8.4, -8.4,-8.9,-9.3,-9.5, -10.0,-10.8,-9.7,-8.8, -8.0,-8.3,-8.0,-7.6, -7.5,-7.3,-7.1,-7.0, -7.6,-7.8,-8.0,-8.4, -8.5,-8.9,-9.2,-9.5, -10.2,-10.2,-9.9,-9.5, -10.1,-9.9,-9.5,-9.1, -8.1,-8.1,-8.1,-8.1, -8.5,-8.7,-8.8,-8.9, -9.0,-9.1,-9.0,-8.8, -8.0,-8.1,-8.1,-8.1, -9.2,-9.5,-9.6,-9.6, -8.7,-9.2,-8.9,-9.0, -9.2]
];

// Precipitation (mm / 6h)
const meanP = [0,0,0,0, 0,0,0,0, 0,0,0,0, .2,.1,0,0, .1,.2,0,0, 0,0,0,0, .1,0,0,.1, .1,.2,.3,.4, .7,1,1.1,.9, .5,.7,.95,.4, .1,.2,.4,.3, .3,.7,1.3,.7, .1,.1,.2,.1, .1,.3,.7,.5, .3,.5,.8,.8, 1.5,1.6,1.2,1, .2];
const ctrlP = [0,0,0,0, 0,0,0,0, 0,0,0,0, 0,0,0,0, 0,0,0,0, 0,0,0,0, 0,0,0,0, 0,0,0,3.1, 6.2,1.7,2,.8, .2,0,.3,0, 0,0,0,0, 0,0,.5,0, 0,0,0,0, 0,0,0,0, 0,.3,2.2,.6, 1.5,3.5,1.5,3.2, 0];
const gfsP = [0,0,0,0, 0,0,0,0, 0,0,0,0, 0,0,0,0, 0,0,0,0, 0,0,0,0, 0,0,0,0, 0,0,0,0, 0,.3,.5,0, 0,0,0,0, 0,0,0,0, 0,0,0,0, 0,0,0,0, 0,0,0,0, 0,0,.5,.3, .5,.8,.3,0, 0];
const membersP = [
[0,0,0,0, 0,0,0,0, 0,0,0,0, 0,0,0,0, 0,0,0,0, 0,0,0,0, 0,0,0,0, 0,0,0,0, 0,.5,1.2,.8, 0,0,0,0, 0,0,0,0, 0,0,.6,0, 0,0,0,0, 0,0,0,0, 0,0,.5,0, 1,.8,0,0, 0],
[0,0,0,0, 0,0,0,0, 0,0,0,0, 0,0,0,0, 0,.5,0,0, 0,0,0,0, 0,0,0,0, 0,0,0,0, 0,1,3.6,1.5, 0,0,0,0, 0,0,0,0, 0,0,0,.4, 0,0,0,0, 0,0,0,0, 0,0,0,0, 0,0,1,0, 0],
[0,0,0,0, 0,0,0,0, 0,0,0,0, 0,0,0,0, 0,0,0,0, 0,0,0,0, 0,0,0,0, 0,0,0,0, .3,0,0,0, 0,0,0,0, 0,0,0,0, 0,0,0,0, 0,0,0,0, 0,0,0,0, 0,0,0,.6, .8,0,0,0, 0],
[0,0,0,0, 0,0,0,0, 0,0,0,0, 0,0,0,0, 0,0,0,0, 0,0,0,0, 0,0,0,0, 0,0,0,0, 0,0,0,.8, .5,0,0,0, 0,0,0,0, 0,0,0,0, 0,0,0,0, 0,0,0,0, 0,0,0,0, 0,0,0,0, 0],
[0,0,0,0, 0,0,0,0, 0,0,0,0, 0,0,0,0, 0,0,0,0, 0,0,0,0, 0,0,0,0, 0,0,0,0, 0,0,0,0, 0,0,0,0, 0,2.2,2.6,.5, 0,0,0,0, 0,0,0,0, 0,0,0,0, 0,0,0,0, 0,0,.8,0, 0],
[0,0,0,0, 0,0,0,0, 0,0,0,0, 0,0,0,0, 0,0,0,0, 0,0,0,0, 0,0,0,0, 0,0,0,0, 0,0,.8,1, 0,0,0,0, 0,0,0,0, 0,0,0,0, 0,0,0,0, 0,0,0,0, 0,0,0,0, 0,0,0,.5, 0],
[0,0,0,0, 0,0,0,0, 0,0,0,0, 0,0,0,0, 0,0,0,0, 0,0,0,0, 0,0,0,0, 0,0,0,0, 0,1.5,1,0, 0,0,0,0, 0,0,0,0, 0,0,0,.6, 0,0,0,0, 0,0,0,0, 0,0,0,0, 0,0,0,0, 0],
[0,0,0,0, 0,0,0,0, 0,0,0,0, .6,.3,0,0, 0,0,0,0, 0,0,0,0, 0,0,0,0, 0,0,0,.5, 1.5,2.5,1.2,0, 0,0,0,0, 0,0,0,0, 0,0,0,0, 0,0,0,0, 0,0,0,0, 0,0,0,0, 0,0,0,0, 0],
[0,0,0,0, 0,0,0,0, 0,0,0,0, 0,0,0,0, 0,0,0,0, 0,0,0,0, 0,0,0,0, 0,0,0,0, 0,4.6,2,3.6, .5,0,0,0, 0,0,0,0, 0,1.5,5,1, 0,0,0,0, 0,0,0,0, 0,0,0,0, 0,0,0,0, 0],
[0,0,0,0, 0,0,0,0, 0,0,0,0, 0,0,0,0, 0,0,0,0, 0,0,0,0, 0,.4,0,0, 0,0,0,0, 0,0,0,0, 0,0,0,0, 0,0,0,0, 0,0,0,0, 0,0,0,0, 0,0,0,0, 0,.5,3.2,2.9, 1,0,0,0, 0],
[0,0,0,0, 0,0,0,0, 0,0,0,0, 0,0,0,0, 0,0,0,0, 0,0,0,0, 0,0,0,0, 0,0,0,0, 0,0,0,0, 0,0,0,0, 0,0,0,0, 0,0,0,0, 0,0,0,0, 0,0,0,0, 0,0,0,1.7, 18.4,14.6,3,.5, 0],
[0,0,0,0, 0,0,0,0, 0,0,0,0, 0,0,0,0, 0,0,0,0, 0,0,0,0, 0,0,0,0, 0,0,0,0, 0,0,0,0, 0,0,0,0, 0,0,0,0, 0,0,0,0, 0,0,0,0, 0,0,0,0, 0,0,.6,2.2, 10.8,3.1,.8,0, 0],
[0,0,0,0, 0,0,0,0, 0,0,0,0, 2,.5,0,0, 0,0,0,0, 0,0,0,0, 0,0,0,0, 0,0,0,0, 0,0,0,0, 0,0,.8,2, .3,0,0,0, 0,0,0,0, 0,0,0,0, 0,0,0,0, 0,0,0,0, 0,0,0,0, 0],
[0,0,0,0, 0,0,0,0, 0,0,0,0, 0,0,0,0, 0,0,0,0, 0,0,0,0, 0,0,0,0, 0,0,0,0, 0,0,0,0, 0,0,0,0, 0,0,0,0, .5,1.5,8.1,1.5, 0,0,0,0, 0,0,0,0, 0,0,0,0, 0,0,0,0, 0],
[0,0,0,0, 0,0,0,0, 0,0,0,0, 0,0,0,0, 0,0,0,0, 0,0,0,0, 0,0,0,0, 0,0,0,0, 0,0,0,0, 0,0,0,0, 0,0,0,0, 0,0,0,0, 0,0,0,0, 0,0,0,0, 0,0,0,.5, 1,8.6,5.8,10, 0],
[0,0,0,0, 0,0,0,0, 0,0,0,0, 1,.3,0,0, 0,0,0,0, 0,0,0,0, 0,0,0,0, 0,.3,.8,2, 3,6,11.2,4.6, .5,0,0,0, 0,0,0,0, 0,0,0,0, 0,0,0,0, 0,0,0,0, 0,0,0,0, 0,0,0,0, 0],
[0,0,0,0, 0,0,0,0, 0,0,0,0, 0,0,0,0, 0,0,0,0, 0,0,0,0, 0,0,0,0, 0,0,0,0, 0,0,0,0, 0,3.1,15.8,.8, 0,0,0,0, 1.9,7.4,9.3,1, 0,0,0,0, 0,0,0,0, 0,0,0,0, 0,0,0,0, 0],
[0,0,0,0, 0,0,0,0, 0,0,0,0, 0,0,0,0, 0,0,0,0, 0,0,0,0, 0,0,0,0, 0,0,0,0, 0,0,.6,.5, 0,0,0,0, 0,0,0,0, 0,0,0,0, 0,0,0,0, 0,0,0,0, 0,0,0,0, 0,.7,0,0, 0],
[0,0,0,0, 0,0,0,0, 0,0,0,0, 0,0,0,0, 0,0,0,0, 0,0,0,0, 0,0,0,0, 0,0,0,0, 0,0,0,0, 1,3,1.5,0, 0,0,0,0, 0,0,0,0, 0,0,0,0, 0,0,3.2,1, 0,0,0,0, 0,0,0,0, 0],
[0,0,0,0, 0,0,0,0, 0,0,0,0, 0,0,0,0, 0,0,0,0, 0,0,0,0, 0,0,0,0, 0,0,0,0, 0,0,0,.5, 0,0,0,0, 0,0,0,0, 0,0,0,0, 0,0,0,0, 0,0,0,0, 0,.5,.8,0, 0,0,0,0, 0],
[0,0,0,0, 0,0,0,0, 0,0,0,0, 0,0,0,0, 0,0,0,0, 0,0,0,0, 0,0,0,0, 0,0,0,0, 0,0,0,0, 0,0,0,0, 0,0,0,0, 0,0,0,0, 0,0,0,0, 0,.5,4.1,2, .3,0,0,0, 0,0,0,0, 0],
[0,0,0,0, 0,0,0,0, 0,0,0,0, 0,0,0,0, 0,0,0,0, 0,0,0,0, 0,0,0,0, 0,0,0,0, 0,0,0,0, 0,0,0,0, 0,0,0,0, 0,0,.8,0, 0,0,0,0, 0,0,0,0, 0,0,0,0, .5,0,0,0, 0],
[0,0,0,0, 0,0,0,0, 0,0,0,0, 0,0,0,0, 0,0,0,0, 0,0,0,0, 0,0,0,0, 0,0,0,0, 0,0,0,0, 1.5,4.3,2,.5, 0,0,0,0, 0,0,0,0, 0,0,2,.3, 0,0,0,0, 0,0,0,0, 0,0,0,0, 0],
[0,0,0,0, 0,0,0,0, 0,0,0,0, 0,0,0,0, .8,.3,0,0, 0,0,0,0, 0,0,0,0, 0,0,0,0, 0,0,0,0, 0,0,0,0, 0,1.5,2.6,.5, 0,0,0,0, 0,0,0,0, 0,0,0,0, 0,0,0,0, 0,0,0,0, 0],
[0,0,0,0, 0,0,0,0, 0,0,0,0, 0,0,0,0, 0,0,0,0, 0,0,0,0, 0,0,0,0, 0,0,0,0, 0,0,0,0, 0,0,0,0, 0,0,0,0, 0,0,0,0, 0,0,0,0, 0,0,0,0, 0,0,0,1, 3.1,2.5,1,0, 0],
[0,0,0,0, 0,0,0,0, 0,0,0,0, 0,0,0,0, 0,0,0,0, 0,0,0,0, 0,0,0,0, 0,0,0,0, 0,1.5,3.5,8.6, 2,.5,0,0, 0,0,0,0, 0,0,0,0, 0,0,0,0, 0,0,0,0, 0,0,0,0, .5,2,4.5,8.6, 0],
[0,0,0,0, 0,0,0,0, 0,0,0,0, 0,0,0,0, 0,0,0,0, 0,0,0,0, 0,0,0,0, 0,0,0,0, 0,0,0,0, 0,0,0,0, 0,0,0,0, 0,0,0,0, 0,0,0,0, 0,0,0,0, 0,0,.5,1, 1.2,0,0,0, 0],
[0,0,0,0, 0,0,0,0, 0,0,0,0, 0,0,0,0, 0,0,0,0, 0,0,0,0, 0,0,0,1.7, .3,0,0,0, 3.1,1,0,0, 0,0,0,0, 0,0,0,0, 0,0,0,0, 0,0,0,0, 0,0,0,0, 0,0,0,0, 0,0,0,0, 0],
[0,0,0,0, 0,0,0,0, 0,0,0,0, 0,0,0,0, 0,0,0,0, 0,0,0,0, 0,0,0,0, 0,0,0,0, 0,0,0,0, 0,0,0,0, 0,0,0,0, 0,0,0,0, 0,0,0,0, 0,.5,4.8,3.6, 1,0,0,0, 0,0,0,0, 0],
[0,0,0,0, 0,0,0,0, 0,0,0,0, 0,0,0,0, 0,0,0,0, 0,0,0,0, 0,0,0,0, 0,0,0,0, 0,0,0,0, 0,0,0,0, 0,0,0,0, 0,0,0,0, 0,0,0,0, 0,0,0,0, 0,0,0,0, 0,1.2,3.4,3.2, 0]
];

// ---------------- CHART ----------------
const svg = d3.select("#c");
const x = d3.scaleLinear().domain([0,64]).range([50,690]);
const yT = d3.scaleLinear().domain([-45,30]).range([547,22]);
const yP = d3.scaleLinear().domain([0,75]).range([547,22]);

// grid
const grid = svg.append("g").attr("shape-rendering","crispEdges");
grid.selectAll("line.v").data(dayTicks).join("line")
  .attr("x1",d=>Math.round(x(d))+0.5).attr("x2",d=>Math.round(x(d))+0.5)
  .attr("y1",0).attr("y2",600).attr("stroke","#c0c0c0").attr("stroke-width",1.6);
grid.selectAll("line.h").data(leftTicks.filter(d=>d!==0)).join("line")
  .attr("x1",x(0)).attr("x2",x(64))
  .attr("y1",d=>yT(d)).attr("y2",d=>yT(d))
  .attr("stroke",d=>d%10===0?"#b8b8b8":"#c4c4c4")
  .attr("stroke-width",d=>d%10===0?2.2:1.2);
[-1.8,1.2].forEach(off=>{
  grid.append("line").attr("x1",x(0)).attr("x2",x(64))
    .attr("y1",yT(0)+off).attr("y2",yT(0)+off)
    .attr("stroke","#8c8c8c").attr("stroke-width",1.1);
});

// series helpers
function line(y){ return d3.line().x((d,i)=>x(i)).y(d=>y(d)); }
function drawPanel(members, gfs, ctrl, mean, y){
  const g = svg.append("g");
  members.forEach((s,k)=>{
    g.append("path").datum(s).attr("fill","none").attr("stroke",memberColors[k])
      .attr("stroke-width",1).attr("d",line(y));
    g.append("path").attr("fill","none").attr("stroke",memberColors[k]).attr("stroke-width",1)
      .attr("d", s.map((d,i)=>`M${x(i)-1.5},${y(d)}h3M${x(i)},${y(d)-1.5}v3`).join(""));
  });
  g.append("path").datum(gfs).attr("fill","none").attr("stroke","#000").attr("stroke-width",3)
    .attr("stroke-linejoin","round").attr("d",line(y));
  g.append("path").datum(ctrl).attr("fill","none").attr("stroke","#0000ff").attr("stroke-width",3)
    .attr("stroke-linejoin","round").attr("d",line(y));
  g.append("path").datum(mean).attr("fill","none").attr("stroke","#ff0000").attr("stroke-width",4.5)
    .attr("stroke-linejoin","round").attr("d",line(y));
}
drawPanel(members850, gfs850, ctrl850, mean850, yT);
drawPanel(members500, gfs500, ctrl500, mean500, yT);
drawPanel(membersP, gfsP, ctrlP, meanP, yP);

// panel labels
svg.append("text").attr("x",60).attr("y",31).attr("font-size",10).text("Temp. 850hPa");
svg.append("text").attr("x",60).attr("y",274).attr("font-size",10).text("Temp. 500hPa");
svg.append("text").attr("x",60).attr("y",539).attr("font-size",10).text("Précipitations");

// left axis
const la = svg.append("g").attr("transform","translate(20,0)")
  .call(d3.axisRight(yT).tickValues(leftTicks).tickSize(0).tickPadding(0).tickFormat(d=>String(d)));
la.select(".domain").remove();
la.selectAll("text").attr("font-family","DejaVu Sans Mono").attr("font-size",10).attr("fill","#000");
// right axis
const ra = svg.append("g").attr("transform","translate(707,0)")
  .call(d3.axisRight(yP).tickValues(rightTicks).tickSize(0).tickPadding(0).tickFormat(d=>String(d)));
ra.select(".domain").remove();
ra.selectAll("text").attr("font-family","DejaVu Sans Mono").attr("font-size",10).attr("fill","#000");

// bottom axis
const ba = svg.append("g").attr("transform","translate(0,600)")
  .call(d3.axisBottom(x).tickValues(dayTicks).tickSize(0).tickSizeOuter(0).tickFormat((d,i)=>dates[i]));
ba.select(".domain").attr("stroke","#000").attr("stroke-width",1.4);
ba.selectAll("text").attr("font-family","DejaVu Sans Mono").attr("font-size",10).attr("fill","#000")
  .attr("transform","rotate(-90)").attr("text-anchor","end").attr("x",-3).attr("y",9).attr("dy",0);

svg.append("text").attr("x",20).attr("y",609).attr("font-size",10).style("fill","#000").text("(°c)");
svg.append("text").attr("x",711).attr("y",609).attr("font-size",10).style("fill","#000").text("(mm)");
svg.append("text").attr("x",10).attr("y",626).attr("font-size",10).style("fill","#000").text("Alt. 1028m");

// legend
const lg = svg.append("g");
lg.append("line").attr("x1",35).attr("x2",65).attr("y1",637).attr("y2",637).attr("stroke","#ff0000").attr("stroke-width",4);
lg.append("text").attr("x",75).attr("y",640).attr("font-size",10).text("Moyenne des scénarios");
lg.append("line").attr("x1",225).attr("x2",255).attr("y1",637).attr("y2",637).attr("stroke","#0000ff").attr("stroke-width",4);
lg.append("text").attr("x",265).attr("y",640).attr("font-size",10).text("Run de contrôle");
lg.append("line").attr("x1",225).attr("x2",255).attr("y1",647).attr("y2",647).attr("stroke","#000").attr("stroke-width",4);
lg.append("text").attr("x",265).attr("y",651).attr("font-size",10).text("Run GFS");
lg.append("text").attr("x",53).attr("y",663).attr("font-size",13).attr("font-family","DejaVu Sans").style("fill","#5aaae8").text("❄");
lg.append("text").attr("x",75).attr("y",662).attr("font-size",10).text("Risque neige");
lg.append("text").attr("x",340).attr("y",655).attr("font-size",10).text("30 Perts.");
const sw = lg.selectAll("g.sw").data(memberColors).join("g");
sw.append("rect").attr("x",(d,i)=>400+i*11.1).attr("y",649).attr("width",10).attr("height",7).attr("fill",d=>d);
sw.append("text").attr("x",(d,i)=>405+i*11.1).attr("y",647).attr("text-anchor","middle")
  .attr("font-size",7.4).attr("font-weight","bold").text((d,i)=>memberLabels[i]);

// title box
svg.append("rect").attr("x",20.5).attr("y",667.5).attr("width",420).attr("height",40)
  .attr("fill","none").attr("stroke","#000").attr("stroke-width",1.5);
svg.append("text").attr("x",30).attr("y",681).attr("font-size",11.3).attr("font-weight","bold")
  .text("Diagramme des ensembles GEFS sur 384h : 42N 13.5E");
svg.append("text").attr("x",30).attr("y",695).attr("font-size",10)
  .text("Températures 850hPa et 500hPa (°C) , précipitations (mm)");
svg.append("text").attr("x",450).attr("y",680).attr("font-size",10)
  .text("Ensemble GEFS du 26/08/2026 - 00Z");
svg.append("text").attr("x",450).attr("y",695).attr("font-size",11.5).attr("font-weight","bold")
  .text("Copyright 2026 Meteociel.fr");
</script>
</body></html>
